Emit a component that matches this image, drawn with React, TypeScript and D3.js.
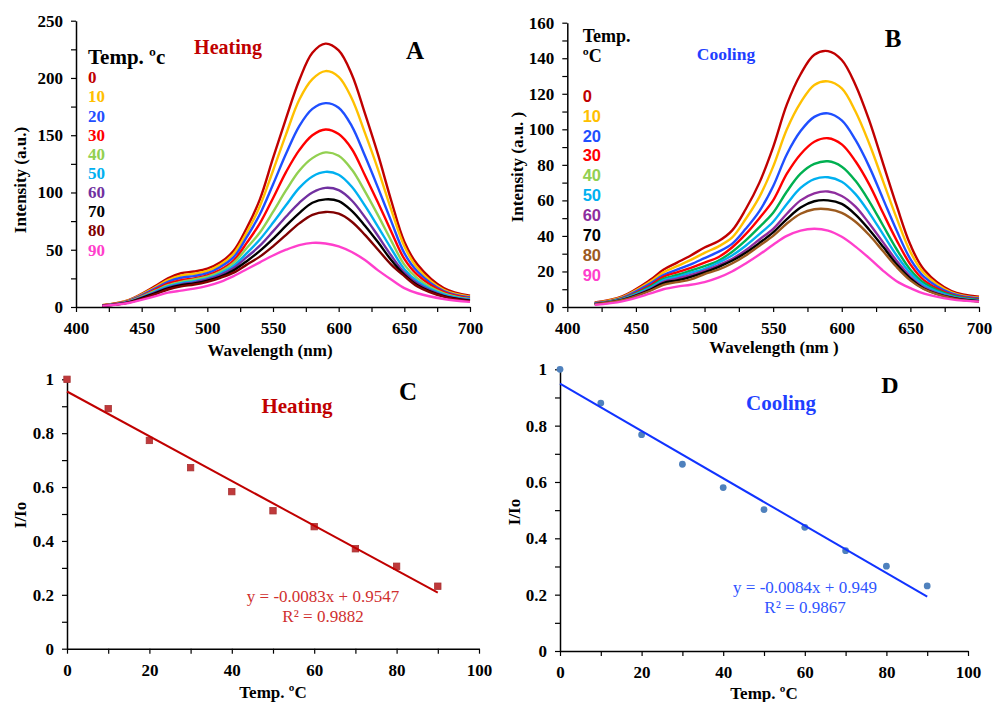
import React, { useRef, useEffect } from "react";
import * as d3 from "d3";

const SERIF = "'Liberation Serif','Times New Roman',serif";
const SANS = "'Liberation Sans',Arial,sans-serif";

// wavelength grid (nm) the spectra were read at
const wavelengths = [420, 440, 460, 470, 480, 490, 500, 510, 520, 530, 540, 550, 560, 570, 580, 590, 600, 610, 620, 630, 640, 650, 660, 680, 700];
const tempLabels = ["0", "10", "20", "30", "40", "50", "60", "70", "80", "90"];
const temps = [0, 10, 20, 30, 40, 50, 60, 70, 80, 90];

// heating spectra (A)
const heat0 = [1.6, 6, 18, 25, 29.5, 31, 33.5, 39, 49, 69, 94, 130, 165, 198, 222, 230, 224, 203, 169, 133, 93, 57, 37, 16.5, 9.8];
const heat10 = [1.5, 5.7, 17, 23.5, 27.5, 29, 31.5, 37, 46.5, 65, 88, 119, 151, 181, 199, 206, 201, 182, 152, 120, 85, 53, 34, 15, 9];
const heat20 = [1.4, 5.3, 16, 22, 25.5, 27, 29.5, 35, 43.5, 61, 81, 107, 134, 158, 173, 178, 174, 158, 132, 104, 75, 47, 31, 14, 8.3];
const heat30 = [1.3, 5, 15, 20.5, 23.5, 25, 27.7, 32.5, 40.5, 56, 73, 95, 118, 137, 150, 155, 151, 138, 115, 91, 66, 42, 28, 13, 7.5];
const heat40 = [1.2, 4.6, 14, 19, 22, 24, 26.5, 31, 38.5, 51.5, 65, 83, 102, 119, 130, 135, 132, 120, 101, 80, 58, 37, 25, 12, 7];
const heat50 = [1.1, 4.4, 13.3, 18, 20.8, 22.6, 25, 29.5, 36, 47, 59, 73.5, 89, 104, 114, 118, 115.5, 105, 88.5, 70, 51, 33, 22.5, 11, 6.5];
const heat60 = [1.1, 4.2, 12.5, 17, 19.8, 21.5, 24, 28, 34, 43.5, 53.5, 66, 79, 91, 100, 104, 102, 93, 78.5, 62, 45, 30, 20.5, 10, 6];
const heat70 = [1, 4, 12, 16.3, 19, 20.6, 23, 26.5, 32, 40, 49, 59.5, 71, 82, 91, 94, 92.5, 84, 71, 56.5, 41, 28, 19, 9.5, 5.5];
const heat80 = [1, 3.8, 11, 15.3, 18, 19.6, 22, 25.5, 30, 37, 44, 53, 63, 73, 80.5, 83, 81.5, 74.5, 63, 50, 37, 27, 18, 9, 5];
const heat90 = [1, 3.5, 9.2, 12.5, 14.3, 16, 18.5, 22, 27, 33, 39, 45, 50, 54, 56, 55.5, 53, 48, 41, 32, 24, 16.5, 12, 7, 4.5];

// cooling spectra (B)
const cool0 = [2.5, 6, 15, 21, 25, 29, 33.5, 37, 43, 55, 70, 90, 114, 131, 142, 144, 139, 125, 105, 81, 57, 35, 21, 9, 5.8];
const cool10 = [2.3, 5.6, 14, 19.5, 23, 26.5, 30.5, 34, 39, 49.5, 62, 79, 100, 115, 125, 127, 123, 110, 92, 71, 50, 31, 19, 8.3, 5.2];
const cool20 = [2.1, 5.2, 13, 18, 21, 24, 27.5, 31, 35.5, 44, 54, 68, 86, 99, 107, 109, 105, 94, 79, 61, 43, 27, 17, 7.6, 4.8];
const cool30 = [2, 4.9, 12, 17, 19.5, 22, 25, 28, 33.5, 41, 50, 60, 75, 86, 93, 95, 91.5, 82, 69, 53, 37.5, 24, 15, 7, 4.4];
const cool40 = [1.9, 4.6, 11.2, 15.8, 18, 20.5, 23, 26, 31, 37.5, 45, 53, 65, 75, 80.5, 82, 79, 71, 59.5, 46, 32.5, 21, 13.5, 6.5, 4];
const cool50 = [1.8, 4.4, 10.6, 15, 17, 19.3, 21.5, 25, 29, 34.5, 41, 48, 58, 67, 72, 73, 70.5, 63.5, 53, 41, 29, 19, 12.2, 6, 3.7];
const cool60 = [1.7, 4.2, 10, 14.2, 16, 18, 20.5, 23.5, 27, 32, 38, 44, 52.5, 60, 64, 65, 62.5, 56.5, 47, 36.5, 26, 17, 11, 5.5, 3.4];
const cool70 = [1.6, 4, 9.5, 13.5, 15, 17, 19.5, 22.5, 26, 30.5, 36, 42, 49.5, 56, 59.5, 60, 58, 52, 43.5, 34, 24, 16, 10.3, 5.2, 3.2];
const cool80 = [1.5, 3.8, 9, 12.5, 14, 15.5, 18.5, 21, 24.5, 29, 34.5, 40, 47, 52.5, 55, 55, 53, 48, 40.5, 31.5, 22.5, 15, 10, 5, 3];
const cool90 = [1.2, 3.2, 7.5, 10, 11.5, 12.5, 14, 16.5, 20, 24.5, 29.5, 35, 40, 43, 44, 43, 39.5, 34, 27.5, 20.5, 14.5, 10.6, 7.5, 4.3, 3];

const heatColors = ["#C00000", "#FFC000", "#1F4FFF", "#FF0000", "#92D050", "#00B0F0", "#7030A0", "#000000", "#800000", "#FF3FCC"];
const coolColors = ["#C00000", "#FFC000", "#1F4FFF", "#FF0000", "#00B050", "#00B0F0", "#8E2D9E", "#000000", "#9C5A1E", "#FF3FCC"];
const coolLegendColors = ["#C00000", "#FFC000", "#1F4FFF", "#FF0000", "#92D050", "#00B0F0", "#8E2D9E", "#000000", "#9C5A1E", "#FF3FCC"];

// I/Io vs temperature
const heatRatio = [1, 0.891, 0.773, 0.672, 0.583, 0.512, 0.453, 0.371, 0.306, 0.232];
const coolRatio = [1, 0.88, 0.768, 0.663, 0.58, 0.502, 0.439, 0.356, 0.301, 0.231];
const heatFit = { slope: -0.0083, icpt: 0.9547, eq: "y = -0.0083x + 0.9547", r2: "R² = 0.9882" };
const coolFit = { slope: -0.0084, icpt: 0.949, eq: "y = -0.0084x + 0.949", r2: "R² = 0.9867" };

function styleAxis(g) {
  g.select(".domain").attr("stroke", "#000").attr("stroke-width", 1.5);
  g.selectAll(".tick line").attr("stroke", "#000").attr("stroke-width", 1.2);
  g.selectAll(".tick text")
    .attr("font-family", SERIF)
    .attr("font-weight", "bold")
    .attr("font-size", 17)
    .attr("fill", "#000");
}

function drawAxes(svg, x, y, xTicks, xMajor, yTicks, yMajor, xPad, yPad) {
  const yAxis = d3.axisLeft(y).tickValues(yTicks).tickSize(5).tickSizeOuter(0).tickPadding(yPad)
    .tickFormat((d) => (yMajor(d) ? String(d) : ""));
  const xAxis = d3.axisBottom(x).tickValues(xTicks).tickSize(5).tickSizeOuter(0).tickPadding(xPad)
    .tickFormat((d) => (xMajor(d) ? String(d) : ""));
  const gx = svg.append("g").attr("transform", `translate(0,${y.range()[0]})`).call(xAxis);
  const gy = svg.append("g").attr("transform", `translate(${x.range()[0]},0)`).call(yAxis);
  styleAxis(gx);
  styleAxis(gy);
}

function label(svg, txt, x, y, opts: any = {}) {
  const t = svg.append("text")
    .attr("x", x).attr("y", y)
    .attr("font-family", opts.family || SERIF)
    .attr("font-weight", opts.weight || "bold")
    .attr("font-size", opts.size || 17)
    .attr("fill", opts.color || "#000")
    .attr("text-anchor", opts.anchor || "middle")
    .text(txt);
  if (opts.rotate) t.attr("transform", `rotate(-90,${x},${y})`);
  return t;
}

function spectra(svg, series, colors, xr, yr, ymax, yStep) {
  const x = d3.scaleLinear().domain([400, 700]).range(xr);
  const y = d3.scaleLinear().domain([0, ymax]).range(yr);
  const line = d3.line<number>()
    .x((d, i) => x(wavelengths[i]))
    .y((d) => y(d))
    .curve(d3.curveCatmullRom.alpha(0.5));
  series.forEach((s, i) => {
    svg.append("path").attr("d", line(s)).attr("fill", "none")
      .attr("stroke", colors[i]).attr("stroke-width", 2.4).attr("stroke-linejoin", "round");
  });
  drawAxes(svg, x, y,
    d3.range(400, 701, 25), (d) => d % 50 === 0,
    d3.range(0, ymax + 1, yStep / 2), (d) => d % yStep === 0,
    10, 8);
}

function ratioPlot(svg, vals, fit, xr, yr, marker, markColor, lineColor) {
  const x = d3.scaleLinear().domain([0, 100]).range(xr);
  const y = d3.scaleLinear().domain([0, 1]).range(yr);
  const tv = d3.range(0, 11).map((i) => i / 10);
  drawAxes(svg, x, y,
    d3.range(0, 101, 10), (d) => d % 20 === 0,
    tv, (d) => Math.round(d * 10) % 2 === 0,
    10, 8);
  if (marker === "square") {
    svg.selectAll(null).data(vals).enter().append("rect")
      .attr("x", (d, i) => x(temps[i]) - 3.2).attr("y", (d) => y(d) - 3.2)
      .attr("width", 6.4).attr("height", 6.4)
      .attr("fill", markColor).attr("stroke", "#A83232").attr("stroke-width", 0.8);
  } else {
    svg.selectAll(null).data(vals).enter().append("circle")
      .attr("cx", (d, i) => x(temps[i])).attr("cy", (d) => y(d)).attr("r", 3.4)
      .attr("fill", markColor);
  }
  svg.append("line")
    .attr("x1", x(0)).attr("y1", y(fit.icpt))
    .attr("x2", x(90)).attr("y2", y(fit.icpt + fit.slope * 90))
    .attr("stroke", lineColor).attr("stroke-width", 2);
}

export default function App() {
  const ref = useRef(null);

  useEffect(() => {
    const svg = d3.select(ref.current);
    svg.selectAll("*").remove();

    // A - heating spectra
    spectra(svg, [heat0, heat10, heat20, heat30, heat40, heat50, heat60, heat70, heat80, heat90],
      heatColors, [76, 470], [307, 20.7], 250, 50);
    label(svg, "Intensity (a.u.)", 26, 180, { rotate: true });
    label(svg, "Wavelength (nm)", 270, 356);
    label(svg, "Heating", 228, 53.5, { size: 20, color: "#C00000" });
    label(svg, "A", 415, 59, { size: 25 });
    label(svg, "Temp. ºc", 88, 64, { size: 21, anchor: "start" });
    tempLabels.forEach((t, i) => {
      label(svg, t, 88, 83.3 + i * 19.14, { size: 17, anchor: "start", color: heatColors[i] });
    });

    // B - cooling spectra
    spectra(svg, [cool0, cool10, cool20, cool30, cool40, cool50, cool60, cool70, cool80, cool90],
      coolColors, [567.3, 979], [307, 22.7], 160, 20);
    label(svg, "Intensity (a.u. )", 523, 167, { rotate: true });
    label(svg, "Wavelength (nm )", 774, 353);
    label(svg, "Cooling", 726, 60, { size: 17.5, color: "#1F3FFF" });
    label(svg, "B", 893, 46.5, { size: 25 });
    label(svg, "Temp.", 582.7, 41.7, { size: 18, anchor: "start" });
    label(svg, "ºC", 582.7, 62.3, { size: 18, anchor: "start" });
    tempLabels.forEach((t, i) => {
      label(svg, t, 582.7, 101.7 + i * 19.9, { size: 16.5, anchor: "start", family: SANS, color: coolLegendColors[i] });
    });

    // C - heating I/Io
    ratioPlot(svg, heatRatio, heatFit, [67, 479], [648.7, 379.3], "square", "#C0393B", "#C00000");
    label(svg, "I/Io", 26, 515, { rotate: true });
    label(svg, "Temp. ºC", 273, 698);
    label(svg, "Heating", 297, 413, { size: 21, color: "#C00000" });
    label(svg, "C", 408, 400, { size: 25 });
    label(svg, heatFit.eq, 323, 602, { size: 17, weight: "normal", color: "#D0302F" });
    label(svg, heatFit.r2, 323, 622, { size: 17, weight: "normal", color: "#D0302F" });

    // D - cooling I/Io
    ratioPlot(svg, coolRatio, coolFit, [560, 968], [651, 369.3], "circle", "#4F81BD", "#1133FF");
    label(svg, "I/Io", 520, 512, { rotate: true });
    label(svg, "Temp. ºC", 764, 699);
    label(svg, "Cooling", 781, 410, { size: 21, color: "#1F3FFF" });
    label(svg, "D", 890, 393, { size: 24 });
    label(svg, coolFit.eq, 805, 593, { size: 17, weight: "normal", color: "#2F55FF" });
    label(svg, coolFit.r2, 805, 613, { size: 17, weight: "normal", color: "#2F55FF" });
  }, []);

  return (
    <svg ref={ref} width={994} height={702}
      style={{ position: "absolute", left: 0, top: 0, background: "#fff" }} />
  );
}
